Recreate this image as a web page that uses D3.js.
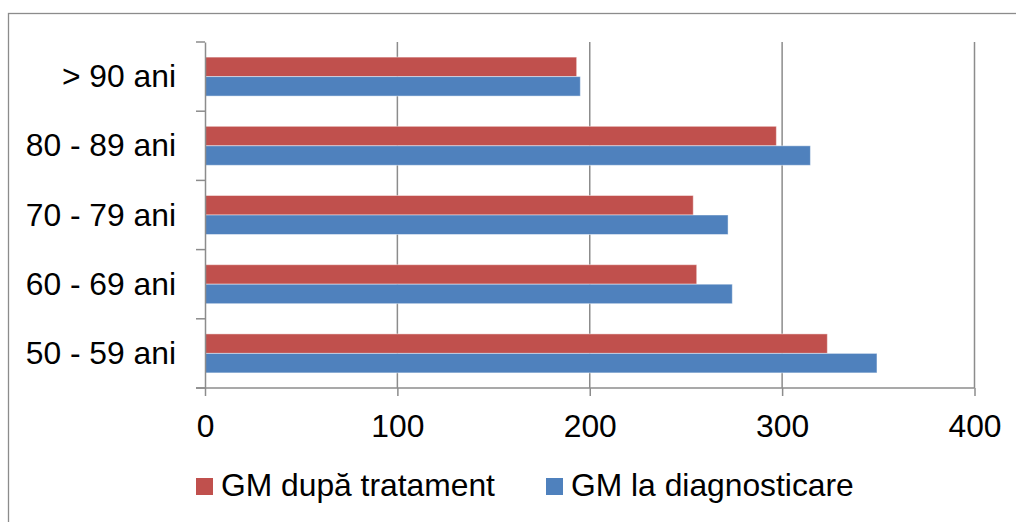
<!DOCTYPE html>
<html>
<head>
<meta charset="utf-8">
<script src="https://cdn.jsdelivr.net/npm/d3@7"></script>
<style>
  html, body { margin: 0; padding: 0; background: #fff; }
  svg { display: block; }
  text { font-family: "Liberation Sans", Arial, sans-serif; fill: #000; }
</style>
</head>
<body>
<svg id="chart" width="1016" height="522"></svg>
<script>
// Age groups, bottom to top
const categories = ["50 - 59 ani", "60 - 69 ani", "70 - 79 ani", "80 - 89 ani", "> 90 ani"];
// Glycaemia after treatment
const gmDupaTratament = [323.5, 255.6, 253.8, 297.0, 193.2];
// Glycaemia at diagnosis
const gmLaDiagnosticare = [349.3, 274.1, 271.9, 314.7, 195.1];
const seriesNames = ["GM după tratament", "GM la diagnosticare"];
const seriesColors = ["#C0504D", "#4F81BD"];
const xTicks = [0, 100, 200, 300, 400];

const svg = d3.select("#chart");
const W = 1016, H = 522;
const plot = { left: 205, right: 974.5, top: 42, bottom: 388 };
const fontSize = 31.8;
const grey = "#8c8c8c";

// Outer frame (runs off the right and bottom edges)
svg.append("rect")
  .attr("x", 8.5).attr("y", 13.5)
  .attr("width", W + 20).attr("height", H + 20)
  .attr("fill", "none").attr("stroke", grey).attr("stroke-width", 1.3);

const x = d3.scaleLinear().domain([0, 400]).range([plot.left, plot.right]);
const y = d3.scaleBand()
  .domain(categories.slice().reverse())
  .range([plot.top, plot.bottom])
  .padding(0);
const inner = d3.scaleBand()
  .domain(seriesNames)
  .range([0, y.bandwidth()])
  .paddingInner(0)
  .paddingOuter(0.775);

// Vertical gridlines
svg.append("g").selectAll("line")
  .data(xTicks.filter(d => d > 0))
  .join("line")
  .attr("x1", d => x(d)).attr("x2", d => x(d))
  .attr("y1", plot.top).attr("y2", plot.bottom)
  .attr("stroke", grey).attr("stroke-width", 1.5);

// Bars
const rows = categories.map((c, i) => ({
  cat: c,
  vals: [gmDupaTratament[i], gmLaDiagnosticare[i]]
}));
const groups = svg.append("g").selectAll("g")
  .data(rows)
  .join("g")
  .attr("transform", d => `translate(0,${y(d.cat)})`);
groups.selectAll("rect")
  .data(d => d.vals.map((v, j) => ({ v, name: seriesNames[j], color: seriesColors[j] })))
  .join("rect")
  .attr("x", x(0))
  .attr("y", d => inner(d.name))
  .attr("width", d => x(d.v) - x(0))
  .attr("height", inner.bandwidth())
  .attr("fill", d => d.color)
  .attr("stroke", "rgba(255,255,255,0.45)")
  .attr("stroke-width", 1);

// Y axis (category)
const yAxis = d3.axisLeft(y).tickSize(0).tickFormat("");
const gy = svg.append("g").attr("transform", `translate(${plot.left},0)`).call(yAxis);
gy.select(".domain").attr("stroke", grey).attr("stroke-width", 1.5);
// Tick marks at band boundaries
const bounds = categories.map(c => y(c)).concat([plot.bottom]);
svg.append("g").selectAll("line")
  .data(bounds)
  .join("line")
  .attr("x1", plot.left - 9).attr("x2", plot.left)
  .attr("y1", d => d).attr("y2", d => d)
  .attr("stroke", grey).attr("stroke-width", 1.5);
svg.append("g").selectAll("text")
  .data(categories)
  .join("text")
  .attr("x", 176)
  .attr("y", d => y(d) + y.bandwidth() / 2 + 10.5)
  .attr("text-anchor", "end")
  .style("font-size", fontSize + "px")
  .text(d => d);

// X axis
const xAxis = d3.axisBottom(x).tickValues(xTicks).tickSize(8).tickFormat(d3.format("d"));
const gx = svg.append("g").attr("transform", `translate(0,${plot.bottom})`).call(xAxis);
gx.select(".domain").remove();
gx.selectAll(".tick line").attr("stroke", grey).attr("stroke-width", 1.5);
gx.selectAll(".tick text")
  .attr("y", 49).attr("dy", 0)
  .attr("fill", "#000")
  .style("font-size", fontSize + "px")
  .style("font-family", "'Liberation Sans', Arial, sans-serif");
svg.append("line")
  .attr("x1", plot.left - 9).attr("x2", plot.right)
  .attr("y1", plot.bottom).attr("y2", plot.bottom)
  .attr("stroke", grey).attr("stroke-width", 1.5);

// Legend
const legendItems = [
  { name: seriesNames[0], color: seriesColors[0], x: 196 },
  { name: seriesNames[1], color: seriesColors[1], x: 546 }
];
const lg = svg.append("g").selectAll("g")
  .data(legendItems)
  .join("g")
  .attr("transform", d => `translate(${d.x},0)`);
lg.append("rect")
  .attr("x", 0).attr("y", 478)
  .attr("width", 17).attr("height", 17)
  .attr("fill", d => d.color);
lg.append("text")
  .attr("x", 25).attr("y", 496)
  .style("font-size", fontSize + "px")
  .text(d => d.name);
</script>
</body>
</html>
